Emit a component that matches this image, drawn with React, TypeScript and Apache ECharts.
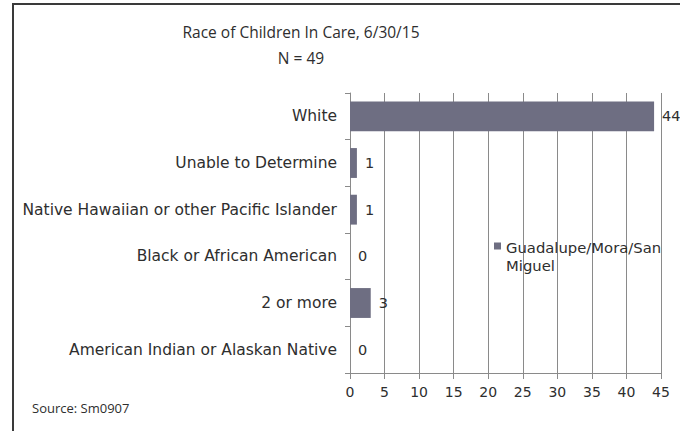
import React, { useEffect, useRef } from "react";
import * as echarts from "echarts";

const categories = [
  "White",
  "Unable to Determine",
  "Native Hawaiian or other Pacific Islander",
  "Black or African American",
  "2 or more",
  "American Indian or Alaskan Native",
];
const values = [44, 1, 1, 0, 3, 0];
const seriesName = "Guadalupe/Mora/San Miguel";
const titleText = "Race of Children In Care, 6/30/15";
const subtitleText = "N = 49";
const sourceText = "Source: Sm0907";

const FONT = "'Open Sans', 'Noto Sans', sans-serif";
const WIDE = "'DejaVu Sans', sans-serif";
const TEXT = "#2e2e2e";

export default function App() {
  const ref = useRef<HTMLDivElement>(null);
  useEffect(() => {
    if (!ref.current) return;
    const chart = echarts.init(ref.current, undefined, { renderer: "svg" });
    chart.setOption({
      animation: false,
      backgroundColor: "#ffffff",
      textStyle: { fontFamily: FONT },
      title: {
        text: titleText + "\n" + subtitleText,
        left: 296,
        top: 14,
        textAlign: "center",
        textStyle: {
          fontFamily: FONT,
          fontSize: 15.5,
          fontWeight: "normal",
          color: TEXT,
          lineHeight: 26,
        },
      },
      legend: {
        data: [seriesName],
        left: 489,
        top: 233,
        icon: "path://M0,0H7V7H0Z M0,26.99H0.01V27H0Z",
        itemWidth: 7,
        itemHeight: 27,
        formatter: () => "Guadalupe/Mora/San\nMiguel",
        textStyle: {
          fontFamily: WIDE,
          fontSize: 14.8,
          color: TEXT,
          lineHeight: 18,
        },
      },
      grid: { left: 350, right: 19, top: 93, bottom: 58, containLabel: false },
      xAxis: {
        type: "value",
        min: 0,
        max: 45,
        interval: 5,
        axisLine: { show: true, lineStyle: { color: "#8a8a8a", width: 1 } },
        axisTick: { show: true, length: 6, lineStyle: { color: "#8a8a8a" } },
        splitLine: { show: true, lineStyle: { color: "#8a8a8a", width: 1 } },
        axisLabel: { color: TEXT, fontSize: 14, margin: 12, fontFamily: WIDE },
      },
      yAxis: {
        type: "category",
        inverse: true,
        data: categories,
        axisLine: { show: true, lineStyle: { color: "#8a8a8a", width: 1 } },
        axisTick: { show: true, length: 5, lineStyle: { color: "#8a8a8a" } },
        axisLabel: { color: TEXT, fontSize: 15.5, margin: 13, fontFamily: WIDE },
      },
      series: [
        {
          name: seriesName,
          type: "bar",
          data: values,
          barCategoryGap: "36%",
          itemStyle: { color: "#6e6e82" },
          label: {
            show: true,
            position: "right",
            distance: 8,
            color: TEXT,
            fontSize: 14.5,
            fontFamily: WIDE,
          },
        },
      ],
      graphic: [
        {
          type: "rect",
          shape: { x: 13, y: 4, width: 700, height: 460 },
          style: { fill: "none", stroke: "#3a3a3a", lineWidth: 2 },
          silent: true,
          z: 100,
        },
        {
          type: "text",
          left: 32,
          top: 401,
          style: { text: sourceText, fill: TEXT, fontSize: 13, fontFamily: FONT },
        },
      ],
    });
    return () => chart.dispose();
  }, []);
  return (
    <div
      ref={ref}
      style={{ position: "fixed", left: 0, top: 0, width: 680, height: 431 }}
    />
  );
}
